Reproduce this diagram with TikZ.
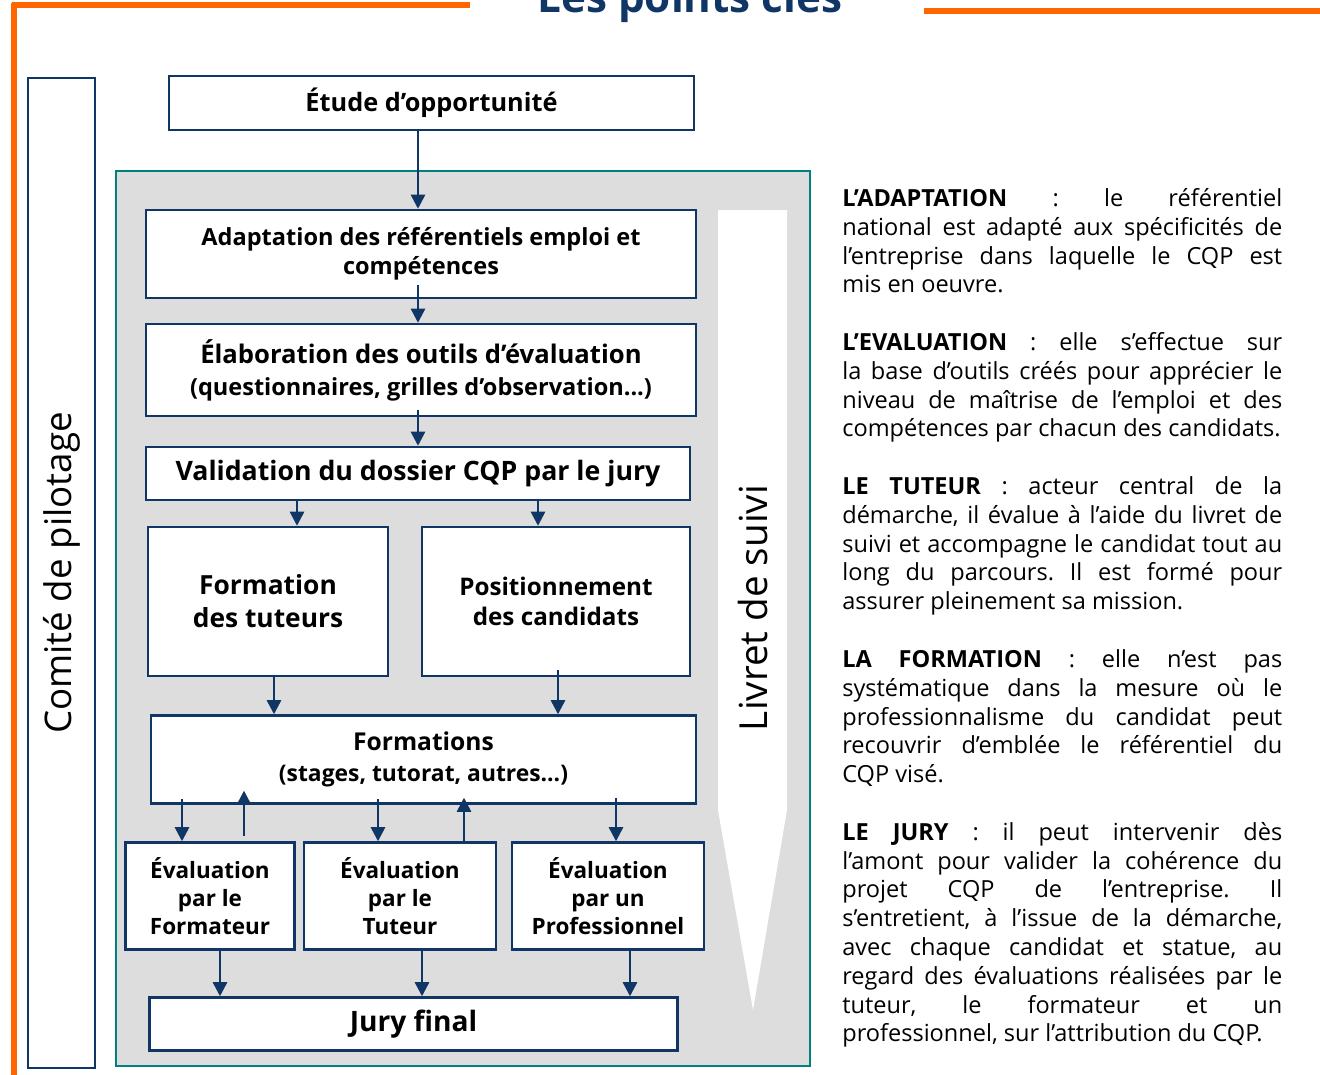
\documentclass[tikz,border=0pt]{standalone}
\usepackage{fontspec}
\setmainfont{Open Sans}
\usetikzlibrary{arrows.meta}
\definecolor{navy}{RGB}{16,54,102}
\definecolor{cadre}{RGB}{0,128,128}
\definecolor{fond}{RGB}{221,221,221}
\definecolor{orange}{RGB}{255,102,0}
\begin{document}
\begin{tikzpicture}[x=0.02cm, y=-0.02cm,
  box/.style={draw=navy, line width=1.4pt, fill=white, align=center, inner sep=0pt},
  arr/.style={draw=navy, line width=1.4pt, -{Triangle[length=8pt,width=8pt]}},
  trait/.style={draw=orange, line width=3.4pt},
  bx/.style={font=\bfseries\fontsize{#1}{\dimexpr #1pt*125/100\relax}\selectfont}]
\useasboundingbox (0,0) rectangle (1320,1075);
\draw[trait] (12,5) -- (470,5);
\draw[trait] (14,3) -- (14,1075);
\draw[trait] (924,11) -- (1320,11);
\node[text=navy, font=\bfseries\fontsize{24}{28}\selectfont, anchor=base] (titre) at (690,12) {Les points clés};

\node[draw=navy, line width=1.4pt, rotate=90, minimum width=19.8cm, minimum height=1.34cm,
  font=\fontsize{20.9}{25}\selectfont] (comite) at (61.5,573) {Comité de pilotage};

\node[box, bx=14.4, minimum width=10.5cm, minimum height=1.08cm] (etude) at (431.5,103) {Étude d’opportunité};

\draw[draw=cadre, fill=fond, line width=1.6pt] (116,171) rectangle (810,1066);
\fill[white] (718,210) -- (787,210) -- (787,810) -- (753,1010) -- (718,810) -- cycle;
\node[rotate=90, font=\fontsize{22}{26}\selectfont] (livret) at (753,608) {Livret de suivi};

\node[box, bx=13.4, minimum width=11cm, minimum height=1.76cm] (adapt) at (421,254)
  {Adaptation des référentiels emploi et\\compétences};
\node[box, bx=14.6, minimum width=11cm, minimum height=1.84cm] (elab) at (421,370)
  {Élaboration des outils d’évaluation\\\fontsize{13.4}{17.6}\selectfont(questionnaires, grilles d’observation...)};
\node[box, bx=15.2, minimum width=10.88cm, minimum height=1.06cm] (valid) at (418,473.5)
  {Validation du dossier CQP par le jury};
\node[box, bx=15, minimum width=4.8cm, minimum height=2.98cm] (ftut) at (268,601.5)
  {Formation\\des tuteurs};
\node[box, bx=13.8, minimum width=5.36cm, minimum height=2.98cm] (posit) at (556,601.5)
  {Positionnement\\des candidats};
\node[box, bx=14, minimum width=10.9cm, minimum height=1.76cm] (forms) at (423.5,759.5)
  {Formations\\\fontsize{13}{16.5}\selectfont(stages, tutorat, autres...)};
\node[box, bx=12.8, minimum width=3.38cm, minimum height=2.14cm] (evf) at (210,896)
  {Évaluation\\par le\\Formateur};
\node[box, bx=12.8, minimum width=3.84cm, minimum height=2.14cm] (evt) at (400,896)
  {Évaluation\\par le\\Tuteur};
\node[box, bx=12.8, minimum width=3.84cm, minimum height=2.14cm] (evp) at (608,896)
  {Évaluation\\par un\\Professionnel};
\node[box, bx=16, minimum width=10.56cm, minimum height=1.06cm] (jury) at (413.5,1024)
  {Jury final};

\draw[arr] (etude.south -| 418,0) -- (adapt.north -| 418,0);
\draw[arr, shorten <=-8pt] (adapt.south -| 418,0) -- (elab.north -| 418,0);
\draw[arr, shorten <=-4pt] (elab.south -| 418,0) -- (valid.north -| 418,0);
\draw[arr] (valid.south -| 297,0) -- (ftut.north -| 297,0);
\draw[arr] (valid.south -| 538,0) -- (posit.north -| 538,0);
\draw[arr] (ftut.south -| 274,0) -- (forms.north -| 274,0);
\draw[arr, shorten <=-4pt] (posit.south -| 558,0) -- (forms.north -| 558,0);
\draw[arr, shorten <=-3pt] (forms.south -| 182,0) -- (evf.north -| 182,0);
\draw[arr, shorten <=3pt, shorten >=-8pt] (evf.north -| 244,0) -- (forms.south -| 244,0);
\draw[arr, shorten <=-3pt] (forms.south -| 378,0) -- (evt.north -| 378,0);
\draw[arr, shorten >=-4pt] (evt.north -| 464,0) -- (forms.south -| 464,0);
\draw[arr, shorten <=-4pt] (forms.south -| 616,0) -- (evp.north -| 616,0);
\draw[arr] (evf.south -| 220,0) -- (jury.north -| 220,0);
\draw[arr] (evt.south -| 422,0) -- (jury.north -| 422,0);
\draw[arr] (evp.south -| 630,0) -- (jury.north -| 630,0);

\node[anchor=north west, inner sep=0pt, text width=8.8cm, align=justify,
  font=\fontsize{13.4}{16.4}\selectfont\frenchspacing] (texte) at (842,188) {%
\textbf{L’ADAPTATION} : le référentiel\linebreak national est adapté aux spécificités de\linebreak l’entreprise dans laquelle le CQP est\linebreak mis en oeuvre.\par\vspace{16.4pt}
\textbf{L’EVALUATION} : elle s’effectue sur\linebreak la base d’outils créés pour apprécier le\linebreak niveau de maîtrise de l’emploi et des\linebreak compétences par chacun des candidats.\par\vspace{16.4pt}
\textbf{LE TUTEUR} : acteur central de la\linebreak démarche, il évalue à l’aide du livret de\linebreak suivi et accompagne le candidat tout au\linebreak long du parcours. Il est formé pour\linebreak assurer pleinement sa mission.\par\vspace{16.4pt}
\textbf{LA FORMATION} : elle n’est pas\linebreak systématique dans la mesure où le\linebreak professionnalisme du candidat peut\linebreak recouvrir d’emblée le référentiel du\linebreak CQP visé.\par\vspace{16.4pt}
\textbf{LE JURY} : il peut intervenir dès\linebreak l’amont pour valider la cohérence du\linebreak projet CQP de l’entreprise. Il\linebreak s’entretient, à l’issue de la démarche,\linebreak avec chaque candidat et statue, au\linebreak regard des évaluations réalisées par le\linebreak tuteur, le formateur et un\linebreak professionnel, sur l’attribution du CQP.};
\end{tikzpicture}
\end{document}
